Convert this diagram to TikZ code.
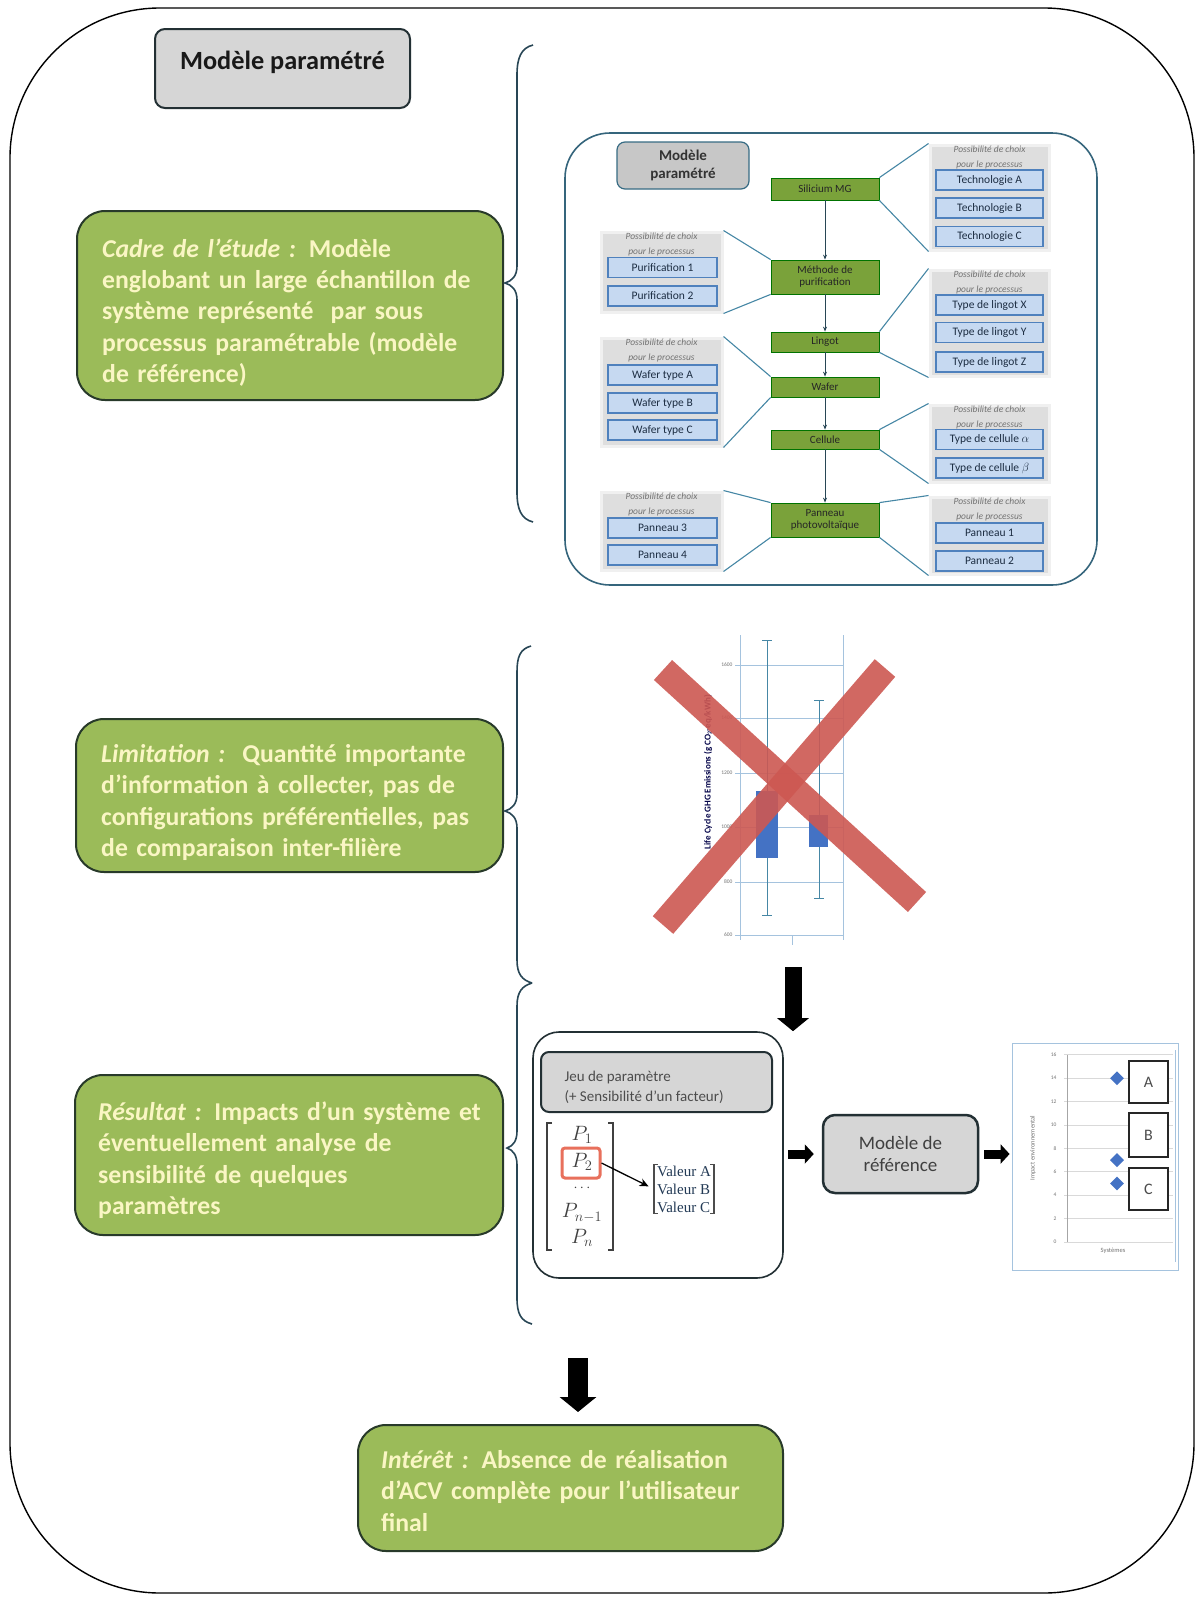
\documentclass[tikz,border=0pt]{standalone}
\usepackage{fontspec}
\setmainfont{Carlito}
\newfontfamily\seriffam{Liberation Serif}
\usetikzlibrary{arrows.meta,calc,shapes.geometric}

\definecolor{boxgreen}{RGB}{155,187,89}
\definecolor{greenedge}{RGB}{40,58,42}
\definecolor{creamtext}{RGB}{250,246,196}
\definecolor{panelgray}{RGB}{214,214,214}
\definecolor{edgedark}{RGB}{35,48,52}
\definecolor{bracecol}{RGB}{40,70,85}
\definecolor{procgreen}{RGB}{122,162,58}
\definecolor{optfill}{RGB}{198,217,241}
\definecolor{optedge}{RGB}{79,129,189}
\definecolor{linkteal}{RGB}{70,135,165}
\definecolor{crossred}{RGB}{205,88,82}
\definecolor{gridblue}{RGB}{165,195,222}
\definecolor{barblue}{RGB}{68,114,196}
\definecolor{pickred}{RGB}{232,112,92}

\tikzset{
  greenbox/.style={draw=greenedge, line width=2pt, fill=boxgreen, rounded corners=28pt, inner sep=0pt},
  greentext/.style={anchor=west, inner sep=0pt, align=left, text=creamtext,
    font=\fontsize{25.7}{31.4}\selectfont\bfseries},
  graybox/.style={draw=edgedark, line width=2pt, fill=panelgray, rounded corners=10pt, inner sep=0pt},
  bracestroke/.style={draw=bracecol, line width=1.6pt},
  proc/.style={draw=black!55!green, line width=0.8pt, fill=procgreen, minimum width=108pt,
    inner sep=1pt, align=center, text=black!85, font=\fontsize{11}{12}\selectfont},
  opt/.style={draw=optedge, line width=1.3pt, fill=optfill, minimum height=20pt,
    inner sep=0pt, text=optedge!35!black, font=\fontsize{11.5}{12}\selectfont},
  grp/.style={fill=black!13, draw=black!6, line width=3pt, inner sep=0pt},
  glabel/.style={align=center, text=black!55, font=\fontsize{9.5}{15}\selectfont\itshape},
  link/.style={draw=linkteal, line width=1.1pt},
  flow/.style={draw=bracecol, line width=1pt, -{Stealth[length=5pt,width=4pt]}},
  bigarrow/.style={draw=black, line width=17pt, -{Triangle[width=31pt,length=13pt]}},
  smallarrow/.style={draw=black, line width=9pt, -{Triangle[width=19pt,length=9pt]}},
  grid line/.style={draw=gridblue, line width=0.8pt},
  tick/.style={text=black!55, font=\fontsize{5.5}{6}\selectfont}
}

\begin{document}
\begin{tikzpicture}[x=1pt,y=-1pt]
\useasboundingbox (0,0) rectangle (1198,1598);
\fill[white] (0,0) rectangle (1198,1598);

% outer frame
\draw[line width=1.4pt, rounded corners=150pt] (10,8) rectangle (1194,1593);

% title
\node[graybox, minimum width=255pt, minimum height=79pt] (title) at (282.5,68.5) {};
\node[font=\fontsize{26.3}{30}\selectfont\bfseries, text=black!90] (titletext) at ($(title.center)+(0,-6)$) {Modèle paramétré};

% left-hand statements
\node[greenbox, minimum width=426pt, minimum height=189pt] (cadre) at (290,305.5) {};
\node[greentext, text width=385pt] (cadretext) at ($(cadre.west)+(26,7)$)
 {\textit{Cadre de l’étude :} Modèle\\englobant un large échantillon de\\système représenté\ \ par sous\\processus paramétrable (modèle\\de référence)};
\node[greenbox, minimum width=427pt, minimum height=153pt] (limit) at (289.5,795.5) {};
\node[greentext, text width=385pt] (limittext) at ($(limit.west)+(26,7)$)
 {\textit{Limitation :}\ \ Quantité importante\\d’information à collecter, pas de\\configurations préférentielles, pas\\de comparaison inter-filière};
\node[greenbox, minimum width=428pt, minimum height=160pt] (result) at (289,1155) {};
\node[greentext, text width=385pt] (resulttext) at ($(result.west)+(24,5)$)
 {\textit{Résultat :} Impacts d’un système et\\éventuellement analyse de\\sensibilité de quelques\\paramètres};
\node[greenbox, minimum width=425pt, minimum height=126pt] (interet) at (570.5,1488) {};
\node[greentext, text width=385pt] (interettext) at ($(interet.west)+(24,3)$)
 {\textit{Intérêt :} Absence de réalisation\\d’ACV complète pour l’utilisateur\\final};

% braces
\draw[bracestroke] (533,45) .. controls (521,48) and (517,58) .. (517,75) -- (517,266)
  .. controls (517,276) and (512,281) .. (505,283) .. controls (512,285) and (517,290) .. (517,300)
  -- (517,492) .. controls (517,509) and (521,519) .. (533,522);
\draw[bracestroke] (531,646) .. controls (520,649) and (517,657) .. (517,672) -- (517,794)
  .. controls (517,804) and (512,809) .. (505,811) .. controls (512,813) and (517,818) .. (517,828)
  -- (517,960) .. controls (517,974) and (522,980) .. (532,983);
\draw[bracestroke] (532,983) .. controls (522,986) and (517,992) .. (517,1006) -- (517,1131)
  .. controls (517,1141) and (513,1146) .. (507,1148) .. controls (513,1150) and (517,1155) .. (517,1165)
  -- (517,1298) .. controls (517,1314) and (521,1321) .. (532,1324);

% ---------- parametrised model panel ----------
\draw[draw=linkteal!75!black, line width=1.6pt, rounded corners=45pt] (565,133) rectangle (1097,585);
\node[draw=linkteal!80!black, line width=1.2pt, fill=black!22, rounded corners=8pt,
  minimum width=132pt, minimum height=47pt, align=center, text=black!80,
  font=\fontsize{15}{18}\selectfont\bfseries] (minit) at (683,165.5) {Modèle\\paramétré};

% option groups (backgrounds)
\node[grp, minimum width=119pt, minimum height=105pt] (gR1) at (989.5,197.5) {};
\node[grp, minimum width=119pt, minimum height=106pt] (gR2) at (989.5,323) {};
\node[grp, minimum width=119pt, minimum height=77pt]  (gR3) at (989.5,443.5) {};
\node[grp, minimum width=119pt, minimum height=77pt]  (gR4) at (989.5,535.5) {};
\node[grp, minimum width=121pt, minimum height=80pt]  (gL1) at (661.5,272) {};
\node[grp, minimum width=121pt, minimum height=108pt] (gL2) at (661.5,392) {};
\node[grp, minimum width=121pt, minimum height=78pt]  (gL3) at (661.5,531) {};

\foreach \g in {gR1,gR2,gR3,gR4,gL1,gL2,gL3}{
  \node[glabel, anchor=north] at ($(\g.north)+(0,-1)$) {Possibilité de choix\\pour le processus};
}

% process chain
\node[proc, minimum height=22pt] (sil)  at (825,189)   {Silicium MG};
\node[proc, minimum height=34pt] (meth) at (825,277)   {Méthode de\\purification};
\node[proc, minimum height=20pt] (ling) at (825,342)   {Lingot};
\node[proc, minimum height=20pt] (waf)  at (825,387)   {Wafer};
\node[proc, minimum height=19pt] (cel)  at (825,439.5) {Cellule};
\node[proc, minimum height=34pt] (pan)  at (825,520)   {Panneau\\photovoltaïque};

\draw[flow] (sil) -- (meth);
\draw[flow] (meth) -- (ling);
\draw[flow] (ling) -- (waf);
\draw[flow] (waf) -- (cel);
\draw[flow] (cel) -- (pan);

% options
\tikzset{ropt/.style={opt, minimum width=107pt}, lopt/.style={opt, minimum width=109pt}}
\node[ropt] (tA) at (989.5,180)   {Technologie A};
\node[ropt] (tB) at (989.5,208)   {Technologie B};
\node[ropt] (tC) at (989.5,236.5) {Technologie C};
\node[ropt] (lX) at (989.5,305)   {Type de lingot X};
\node[ropt] (lY) at (989.5,332.5) {Type de lingot Y};
\node[ropt] (lZ) at (989.5,362)   {Type de lingot Z};
\node[ropt] (cA) at (989.5,439.5) {Type de cellule $\alpha$};
\node[ropt] (cB) at (989.5,468)   {Type de cellule $\beta$};
\node[ropt] (p1) at (989.5,533)   {Panneau 1};
\node[ropt] (p2) at (989.5,561)   {Panneau 2};
\node[lopt] (u1) at (662.5,267.5) {Purification 1};
\node[lopt] (u2) at (662.5,296)   {Purification 2};
\node[lopt] (wA) at (662.5,375)   {Wafer type A};
\node[lopt] (wB) at (662.5,403)   {Wafer type B};
\node[lopt] (wC) at (662.5,430)   {Wafer type C};
\node[lopt] (p3) at (662.5,528)   {Panneau 3};
\node[lopt] (p4) at (662.5,555)   {Panneau 4};

% callout lines between groups and process steps
\draw[link] (gR1.north west) -- (sil.north east);  \draw[link] (gR1.south west) -- (sil.south east);
\draw[link] (gL1.north east) -- (meth.north west); \draw[link] (gL1.south east) -- (meth.south west);
\draw[link] (gR2.north west) -- (ling.north east); \draw[link] (gR2.south west) -- (ling.south east);
\draw[link] (gL2.north east) -- (waf.north west);  \draw[link] (gL2.south east) -- (waf.south west);
\draw[link] (gR3.north west) -- (cel.north east);  \draw[link] (gR3.south west) -- (cel.south east);
\draw[link] (gR4.north west) -- (pan.north east);  \draw[link] (gR4.south west) -- (pan.south east);
\draw[link] (gL3.north east) -- (pan.north west);  \draw[link] (gL3.south east) -- (pan.south west);

% ---------- crossed-out box plot ----------
\node[minimum width=260pt, minimum height=310pt, inner sep=0pt] (boxplot) at (790,790) {};
\foreach \yy in {665,718,773,827,882,935} \draw[grid line] (735,\yy) -- (843,\yy);
\draw[grid line] (740,635) -- (740,940);
\draw[grid line] (843,635) -- (843,940);
\draw[grid line] (792,935) -- (792,945);
\foreach \yy/\lab in {665/1600,718/1400,773/1200,827/1000,882/800,935/600}
  \node[tick, anchor=east] at (736,\yy) {\lab};
\node[rotate=90, text=black!60!blue!70!black, font=\fontsize{9}{10}\selectfont\bfseries] at (708,772)
  {Life Cycle GHG Emissions (g CO\textsubscript{2}-eq/kWh)};
\draw[draw=linkteal, line width=1pt] (767,640) -- (767,915) (762,640) -- (772,640) (762,915) -- (772,915);
\draw[draw=linkteal, line width=1pt] (819,700) -- (819,898) (814,700) -- (824,700) (814,898) -- (824,898);
\fill[barblue] (756,791) rectangle (778,858);
\fill[barblue] (809,815) rectangle (828,847);
\draw[crossred, line width=27pt, opacity=0.9] (663,670) -- (917,902);
\draw[crossred, line width=27pt, opacity=0.9] (885,668) -- (663,925);

\coordinate (drop) at (793,967);

% ---------- parameter set panel ----------
\node[draw=edgedark, line width=1.6pt, rounded corners=26pt, minimum width=250pt,
  minimum height=246pt, inner sep=0pt] (pbox) at (658,1155) {};
\draw[bigarrow] (drop) -- (drop |- pbox.north);

\node[graybox, minimum width=231pt, minimum height=60pt, rounded corners=8pt] (jeu) at (656.5,1082) {};
\node[align=left, anchor=west, text=black!70, font=\fontsize{15}{20}\selectfont] at (561,1087)
  {Jeu de paramètre\\ (+ Sensibilité d’un facteur)};

\tikzset{pent/.style={text=black!75, font=\fontsize{21}{22}\selectfont, inner sep=1pt}}
\node[pent] (P1) at (582,1135) {$P_1$};
\node[pent] (P2) at (582,1162) {$P_2$};
\node[pent, font=\fontsize{14}{14}\selectfont] (Pd) at (582,1188) {$\cdots$};
\node[pent] (Pm) at (582,1213) {$P_{n-1}$};
\node[pent] (Pn) at (582,1238) {$P_n$};
\draw[draw=black!75, line width=1.6pt] (552,1123) -- (547,1123) -- (547,1250) -- (552,1250);
\draw[draw=black!75, line width=1.6pt] (608,1123) -- (613,1123) -- (613,1250) -- (608,1250);
\node[draw=pickred, line width=3pt, rounded corners=3pt, minimum width=38pt, minimum height=30pt,
  inner sep=0pt] (pick) at (581,1163) {};

\node[align=left, inner xsep=3pt, inner ysep=1pt, text=optedge!45!black,
  font=\seriffam\fontsize{15}{18}\selectfont] (vals) at (684,1189) {Valeur A\\Valeur B\\Valeur C};
\draw[draw=black!70, line width=1.2pt] ($(vals.north west)+(4,0)$) -- (vals.north west) -- (vals.south west) -- ($(vals.south west)+(4,0)$);
\draw[draw=black!70, line width=1.2pt] ($(vals.north east)+(-4,0)$) -- (vals.north east) -- (vals.south east) -- ($(vals.south east)+(-4,0)$);
\draw[draw=black, line width=1.3pt, -{Stealth[length=9pt,width=8pt]}, shorten >=6pt] (pick.east) -- (vals.west);

% ---------- reference model ----------
\node[graybox, line width=2.5pt, rounded corners=12pt, minimum width=155pt, minimum height=78pt,
  align=center, text=black!75, font=\fontsize{19}{22}\selectfont] (ref) at (900.5,1154)
  {Modèle de\\référence};
\draw[smallarrow, shorten <=4pt, shorten >=8pt] (ref.west -| pbox.east) -- (ref.west);

% ---------- result chart ----------
\node[draw=gridblue, line width=0.8pt, minimum width=166pt, minimum height=227pt, inner sep=0pt]
  (rchart) at (1095,1156.5) {};
\draw[smallarrow, shorten <=5pt, shorten >=2pt] (ref.east) -- (ref.east -| rchart.west);
\foreach \v in {0,2,...,16}{
  \draw[grid line, draw=black!15] (1064,{1242-\v*11.7}) -- (1173,{1242-\v*11.7});
  \node[tick, anchor=east] at (1060,{1242-\v*11.7}) {\v};
}
\draw[draw=black!35, line width=0.7pt] (1067,1055) -- (1067,1242);
\draw[draw=gridblue, line width=0.7pt] (1175,1050) -- (1175,1262);
\node[rotate=90, tick, font=\fontsize{6.5}{7}\selectfont] at (1033,1148) {Impact environnemental};
\node[tick, font=\fontsize{6.5}{7}\selectfont] at (1113,1251) {Systèmes};
\foreach \v in {14,7,5}
  \node[diamond, fill=barblue, minimum size=14pt, inner sep=0pt] at (1117,{1242-\v*11.7}) {};
\tikzset{sysbox/.style={draw=black!85, line width=2pt, fill=white, minimum width=39pt,
  inner sep=0pt, font=\fontsize{16}{18}\selectfont, text=black!70}}
\node[sysbox, minimum height=42pt] (sA) at (1148.5,1082) {A};
\node[sysbox, minimum height=44pt] (sB) at (1148.5,1135) {B};
\node[sysbox, minimum height=42pt] (sC) at (1148.5,1189) {C};

% ---------- final arrow ----------
\coordinate (lastdrop) at (578,1358);
\draw[draw=black, line width=20pt, -{Triangle[width=36pt,length=15pt]}, shorten >=12pt]
  (lastdrop) -- (lastdrop |- interet.north);

\end{tikzpicture}
\end{document}
